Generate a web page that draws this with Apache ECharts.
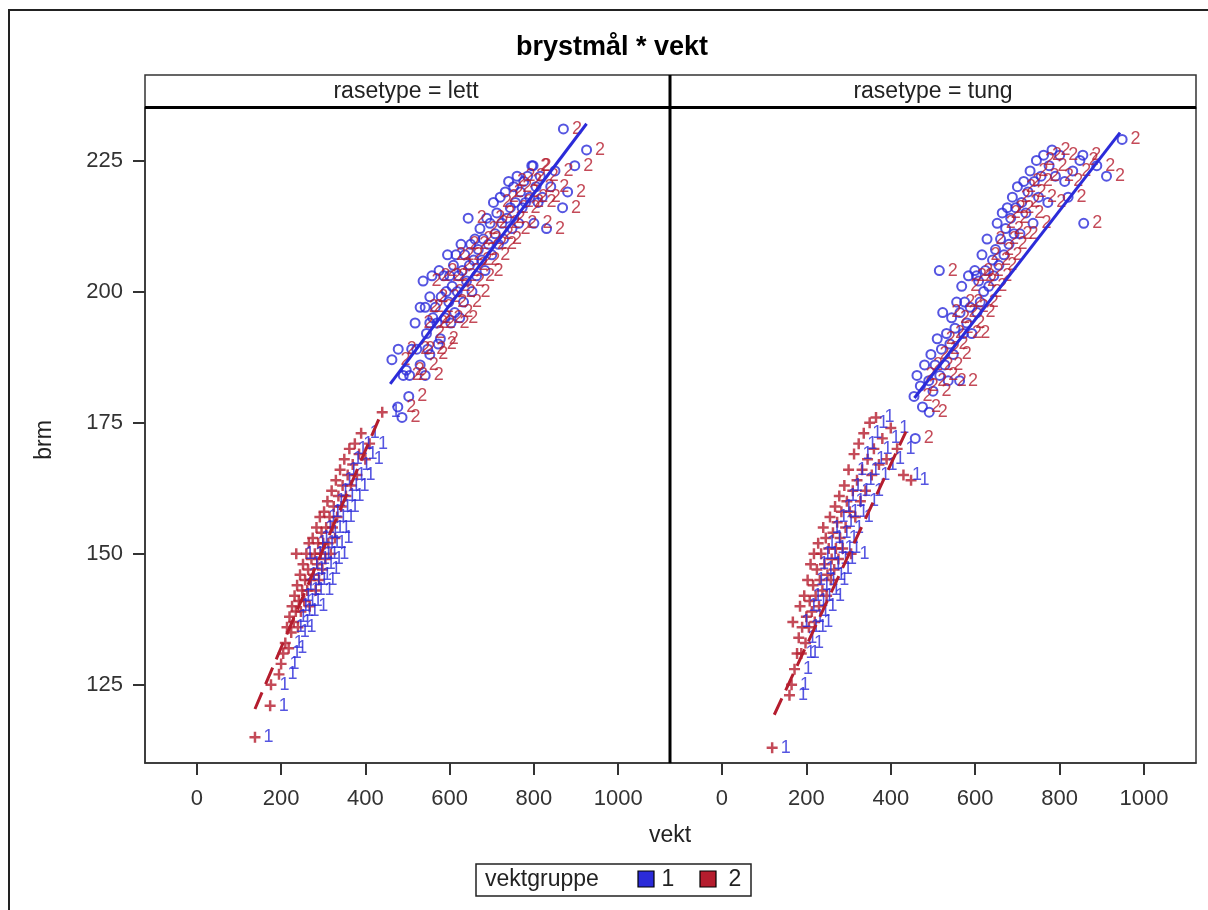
<!DOCTYPE html>
<html>
<head>
<meta charset="utf-8">
<script src="https://cdn.jsdelivr.net/npm/echarts@6/dist/echarts.min.js"></script>
<style>
html,body{margin:0;padding:0;background:#fff;}
#chart{width:1208px;height:910px;}
</style>
</head>
<body>
<div id="chart"></div>
<script>
// ---- data (vekt, brm) ----
const panels = ['rasetype = lett', 'rasetype = tung'];
const xTicks = [0, 200, 400, 600, 800, 1000];
const yTicks = [125, 150, 175, 200, 225];
const groups = ['1', '2'];

// rasetype = lett, "+" markers (red) labelled 1
const lettPlus = [[138,115],[174,121],[176,125],[195,127],[200,129],[205,131],[210,133],[214,136],[218,132],[220,138],[224,135],[226,140],[230,137],[232,142],[235,139],[236,150],[238,144],[240,136],[242,141],[245,146],[247,139],[250,143],[252,148],[255,141],[257,145],[260,150],[262,143],[264,147],[266,152],[268,140],[270,145],[272,149],[275,153],[277,146],[280,150],[282,143],[284,155],[286,148],[288,152],[290,145],[292,157],[294,150],[296,154],[298,147],[300,152],[302,158],[305,149],[307,155],[310,160],[312,152],[315,157],[318,150],[320,162],[322,155],[325,159],[328,153],[330,164],[333,157],[336,161],[340,166],[343,159],[346,163],[350,168],[354,161],[358,165],[362,170],[366,163],[370,167],[375,171],[380,165],[385,169],[390,173],[400,168],[410,171],[440,177]];
// rasetype = lett, "o" markers (blue) labelled 2
const lettCirc = [[463,187],[478,189],[477,178],[487,176],[490,184],[497,185],[503,180],[505,184],[510,189],[518,194],[522,189],[530,186],[530,197],[537,202],[542,184],[542,197],[545,192],[548,189],[553,188],[553,194],[553,199],[558,203],[560,195],[566,197],[570,194],[573,190],[575,204],[578,191],[580,199],[586,203],[589,195],[592,200],[595,207],[598,198],[600,203],[603,194],[606,201],[609,205],[612,196],[615,207],[618,200],[621,203],[624,195],[627,209],[630,204],[633,198],[636,207],[640,202],[644,214],[647,205],[650,209],[653,200],[657,206],[660,210],[664,203],[668,208],[672,212],[676,206],[680,210],[684,204],[688,214],[692,209],[696,213],[700,207],[704,217],[708,211],[712,215],[716,209],[720,218],[724,213],[728,210],[732,219],[736,214],[740,221],[744,216],[748,212],[752,220],[756,217],[760,222],[764,213],[768,219],[772,216],[776,221],[780,217],[785,222],[790,218],[795,224],[798,224],[800,213],[805,220],[810,217],[815,222],[820,218],[830,212],[840,220],[850,223],[868,216],[870,231],[880,219],[897,224],[925,227]];
// rasetype = tung, "+" markers (red) labelled 1
const tungPlus = [[119,113],[160,123],[165,125],[172,128],[168,137],[178,131],[182,134],[185,140],[188,131],[190,136],[195,142],[198,133],[200,138],[203,145],[206,136],[208,141],[210,148],[213,139],[216,144],[218,150],[220,137],[222,142],[225,147],[228,152],[230,140],[232,145],[235,150],[238,143],[240,155],[243,148],[246,153],[248,142],[250,146],[253,151],[256,157],[258,145],[260,149],[263,154],[266,147],[268,159],[270,151],[273,156],[276,149],[278,161],[280,153],[283,158],[286,151],[290,163],[293,155],[296,160],[300,166],[303,158],[306,150],[310,162],[313,169],[316,157],[320,164],[324,171],[328,160],[332,166],[336,173],[340,162],[345,168],[350,175],[355,165],[360,170],[365,176],[372,167],[380,172],[390,168],[400,174],[415,170],[430,165],[448,164]];
// rasetype = tung, "o" markers (blue) labelled 2
const tungCirc = [[455,180],[458,172],[462,184],[470,182],[475,178],[480,186],[491,177],[490,183],[495,188],[500,181],[505,186],[510,191],[515,204],[516,184],[520,189],[523,196],[528,186],[532,192],[536,183],[540,190],[544,195],[548,188],[552,193],[556,198],[563,183],[564,196],[568,201],[572,192],[575,198],[580,194],[584,203],[588,197],[592,192],[599,204],[603,203],[604,196],[608,202],[612,198],[616,207],[620,200],[624,204],[628,210],[632,201],[641,206],[644,203],[648,208],[652,213],[656,205],[660,210],[664,215],[668,207],[672,212],[676,216],[680,209],[684,214],[688,218],[692,211],[696,216],[700,220],[706,211],[710,217],[715,221],[720,215],[725,219],[730,223],[737,213],[740,221],[745,225],[750,218],[756,222],[762,226],[772,217],[775,224],[782,227],[790,222],[800,226],[812,221],[820,218],[831,223],[848,225],[855,226],[857,213],[888,224],[911,222],[948,229]];

// fitted regression lines (end points)
const fitLett1 = [[459,182.4],[925,232.0]];
const fitLett2 = [[138,120.4],[440,177.2]];
const fitTung1 = [[456,179.7],[943,230.3]];
const fitTung2 = [[124,119.3],[436,173.3]];

const BLUE = '#2b2bd9';
const RED = '#b51d2e';
const FONT = '"Liberation Sans", Arial, sans-serif';
const plusPath = 'path://M-0.9,-4H0.9V-0.9H4V0.9H0.9V4H-0.9V0.9H-4V-0.9H-0.9Z';

const chart = echarts.init(document.getElementById('chart'));

const gridTop = 108, gridH = 655;
const grids = [
  {left: 145, top: gridTop, width: 525, height: gridH},
  {left: 670, top: gridTop, width: 526, height: gridH}
];

function xAxisFor(i){
  return {
    type:'value', gridIndex:i, min:-123, max:1123,
    axisLine:{show:true, onZero:false, lineStyle:{color:'#333', width:1.5}},
    axisTick:{show:true, customValues:xTicks, length:12, lineStyle:{color:'#333', width:2}},
    axisLabel:{show:true, customValues:xTicks, formatter:v => String(v), color:'#333', fontSize:22, margin:25, fontFamily:FONT},
    splitLine:{show:false}
  };
}
function yAxisFor(i){
  return {
    type:'value', gridIndex:i, min:110.1, max:235,
    show: i===0,
    axisLine:{show:true, onZero:false, lineStyle:{color:'#333', width:1.5}},
    axisTick:{show:true, customValues:yTicks, length:12, lineStyle:{color:'#333', width:2}},
    axisLabel:{show:true, customValues:yTicks, color:'#333', fontSize:22, margin:22, fontFamily:FONT},
    splitLine:{show:false}
  };
}

function plusSeries(data, i){
  return {
    type:'scatter', name:groups[1], xAxisIndex:i, yAxisIndex:i, data:data,
    symbol:plusPath, symbolSize:11,
    itemStyle:{color:RED},
    label:{show:true, formatter:groups[0], position:'right', distance:3, color:BLUE, fontSize:18, fontFamily:FONT},
    emphasis:{disabled:true}, z:3
  };
}
function circSeries(data, i){
  return {
    type:'scatter', name:groups[0], xAxisIndex:i, yAxisIndex:i, data:data,
    symbol:'circle', symbolSize:9,
    itemStyle:{color:'rgba(0,0,0,0)', borderColor:BLUE, borderWidth:2},
    label:{show:true, formatter:groups[1], position:'right', distance:3, color:RED, fontSize:18, fontFamily:FONT},
    emphasis:{disabled:true}, z:3
  };
}
function fitSeries(data, i, name, color, dashed){
  return {
    type:'line', name:name, xAxisIndex:i, yAxisIndex:i, data:data,
    showSymbol:false, symbol:'none', silent:true,
    lineStyle:{color:color, width:3, type: dashed ? [18,9] : 'solid'},
    itemStyle:{color:color}, z:4
  };
}

const option = {
  animation:false,
  backgroundColor:'#fff',
  grid: grids.map(g => Object.assign({show:true, borderColor:'#333', borderWidth:1.5, backgroundColor:'transparent', containLabel:false}, g)),
  xAxis:[xAxisFor(0), xAxisFor(1)],
  yAxis:[yAxisFor(0), yAxisFor(1)],
  series:[
    plusSeries(lettPlus,0), circSeries(lettCirc,0),
    fitSeries(fitLett1,0,groups[0],BLUE,false), fitSeries(fitLett2,0,groups[1],RED,true),
    plusSeries(tungPlus,1), circSeries(tungCirc,1),
    fitSeries(fitTung1,1,groups[0],BLUE,false), fitSeries(fitTung2,1,groups[1],RED,true)
  ],
  graphic:[
    // outer frame
    {type:'rect', shape:{x:9, y:10, width:1400, height:1200}, style:{fill:'none', stroke:'#222', lineWidth:2}, silent:true},
    // title
    {type:'text', x:612, y:48, style:{text:'brystmål * vekt', font:'bold 27px ' + FONT, fill:'#000', textAlign:'center', textVerticalAlign:'middle'}},
    // panel headers
    {type:'rect', shape:{x:145, y:75, width:1051, height:33}, style:{fill:'#fff', stroke:'#333', lineWidth:1.5}, silent:true},
    {type:'text', x:406, y:92, style:{text:panels[0], font:'23px ' + FONT, fill:'#222', textAlign:'center', textVerticalAlign:'middle'}},
    {type:'text', x:933, y:92, style:{text:panels[1], font:'23px ' + FONT, fill:'#222', textAlign:'center', textVerticalAlign:'middle'}},
    {type:'line', shape:{x1:145, y1:107.5, x2:1196, y2:107.5}, style:{stroke:'#000', lineWidth:3}, z:10, silent:true},
    {type:'line', shape:{x1:670, y1:75, x2:670, y2:763}, style:{stroke:'#000', lineWidth:3}, z:10, silent:true},
    // axis titles
    {type:'text', x:45, y:440, rotation:Math.PI/2, style:{text:'brm', font:'23px ' + FONT, fill:'#222', textAlign:'center', textVerticalAlign:'middle'}},
    {type:'text', x:670, y:836, style:{text:'vekt', font:'23px ' + FONT, fill:'#222', textAlign:'center', textVerticalAlign:'middle'}},
    // legend
    {type:'rect', shape:{x:476, y:864, width:275, height:32}, style:{fill:'#fff', stroke:'#222', lineWidth:1.5}, silent:true},
    {type:'text', x:485, y:880, style:{text:'vektgruppe', font:'23px ' + FONT, fill:'#222', textAlign:'left', textVerticalAlign:'middle'}},
    {type:'rect', shape:{x:638, y:871, width:16, height:16}, style:{fill:BLUE, stroke:'#000', lineWidth:1.2}},
    {type:'text', x:668, y:880, style:{text:groups[0], font:'23px ' + FONT, fill:'#222', textAlign:'center', textVerticalAlign:'middle'}},
    {type:'rect', shape:{x:700, y:871, width:16, height:16}, style:{fill:RED, stroke:'#000', lineWidth:1.2}},
    {type:'text', x:735, y:880, style:{text:groups[1], font:'23px ' + FONT, fill:'#222', textAlign:'center', textVerticalAlign:'middle'}}
  ]
};
chart.setOption(option);
</script>
</body>
</html>
